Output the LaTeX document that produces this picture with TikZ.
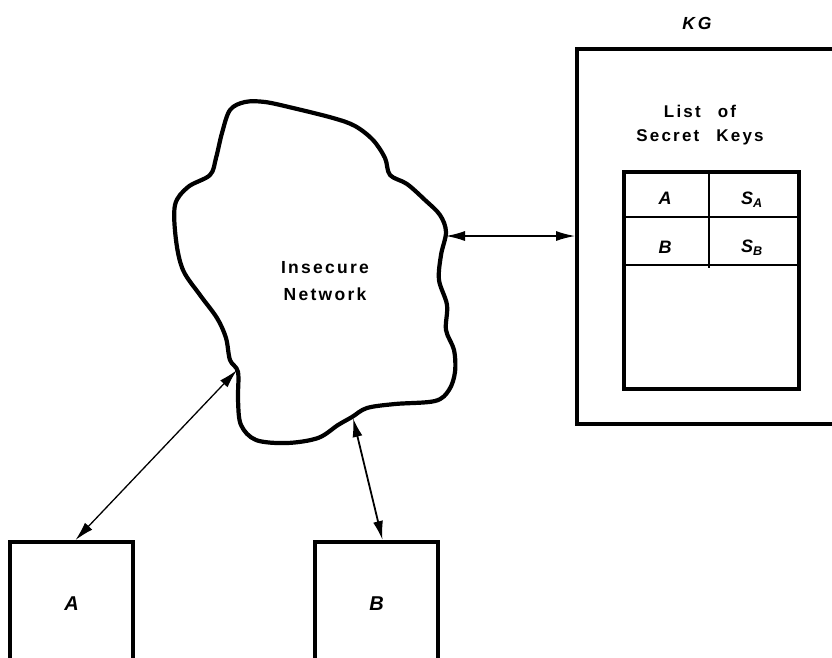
\documentclass[tikz,border=0pt]{standalone}
\usepackage{fontspec}
\setmainfont{Liberation Sans}
\newfontfamily\lettering[LetterSpace=13]{Liberation Sans}
\usetikzlibrary{
  arrows.meta,
  calc,
  positioning,
}
\tikzset{
  >={Latex[length=19pt, width=10pt]},
  link/.style={line width=1.3pt, <->},
}

\begin{document}
\begin{tikzpicture}[x=1pt, y=-1pt,
    station/.style={draw, line width=4.2pt, minimum width=123pt,
                    minimum height=124pt, anchor=north, inner sep=0pt,
                    font=\lettering\bfseries\itshape\fontsize{20}{24}\selectfont},
    caption/.style={font=\lettering\bfseries\fontsize{17.5}{27}\selectfont, align=center},
    cell/.style={font=\lettering\bfseries\itshape\fontsize{18}{20}\selectfont}]
  \useasboundingbox (0,0) rectangle (832,657);

  % the network cloud
  \draw [line width=4.2pt, line join=round]
    plot [smooth cycle, tension=0.55] coordinates {
      (230,110) (245,102) (265,102) (293,108) (333,118) (355,126)
      (373,140) (385,158) (390,175) (407,184) (425,200) (440,215)
      (446,232) (441,255) (439,280) (447,305) (446,330) (454,350)
      (455,372) (449,390) (435,401) (395,404) (367,408) (352,417)
      (338,425) (318,438) (287,443) (256,440) (241,425) (238,400)
      (238,372) (230,360) (226,338) (217,318) (200,295) (183,270)
      (176,240) (175,205) (188,187) (210,175) (216,158) (222,133)};
  \node [caption] (net) at (325,281) {Insecure\\Network};
  \coordinate (netKG) at (446,236);
  \coordinate (netA) at (237,370);
  \coordinate (netB) at (353,418);

  % the two users
  \node [station] (A) at (71.5,540) {A};
  \node [station] (B) at (376.5,540) {B};

  % key generator with its list
  \node [draw, line width=4pt, anchor=north west, minimum width=270pt,
         minimum height=375pt] (KG) at (575,47) {};
  \node [caption] (kglabel) at (697,23) {\itshape K\,G};
  \node [caption, font=\lettering\bfseries\fontsize{17}{24}\selectfont] (list)
        at (700,125) {List\quad of\\Secret\quad Keys};
  \node [draw, line width=4.2pt, anchor=north west, minimum width=175pt,
         minimum height=217pt] (keys) at (622,170) {};
  \draw [line width=1.4pt] ($(keys.north west)+(2,47)$) -- ($(keys.north east)+(-2,47)$);
  \draw [line width=1.4pt] ($(keys.north west)+(2,95)$) -- ($(keys.north east)+(-2,95)$);
  \draw [line width=1.4pt] ($(keys.north)+(-2.5,2)$) -- ($(keys.north)+(-2.5,98)$);
  \node [cell] (ka) at (665,198) {A};
  \node [cell] (sa) at (752,200) {S\textsubscript{A}};
  \node [cell] (kb) at (665,247) {B};
  \node [cell] (sb) at (752,248) {S\textsubscript{B}};

  % connections
  \draw [link] (netKG) -- (KG.west |- netKG);
  \draw [link] (netA) -- ($(A.north)+(4,0)$);
  \draw [link, line width=1.8pt] (netB) -- ($(B.north)+(6,0)$);
\end{tikzpicture}
\end{document}
